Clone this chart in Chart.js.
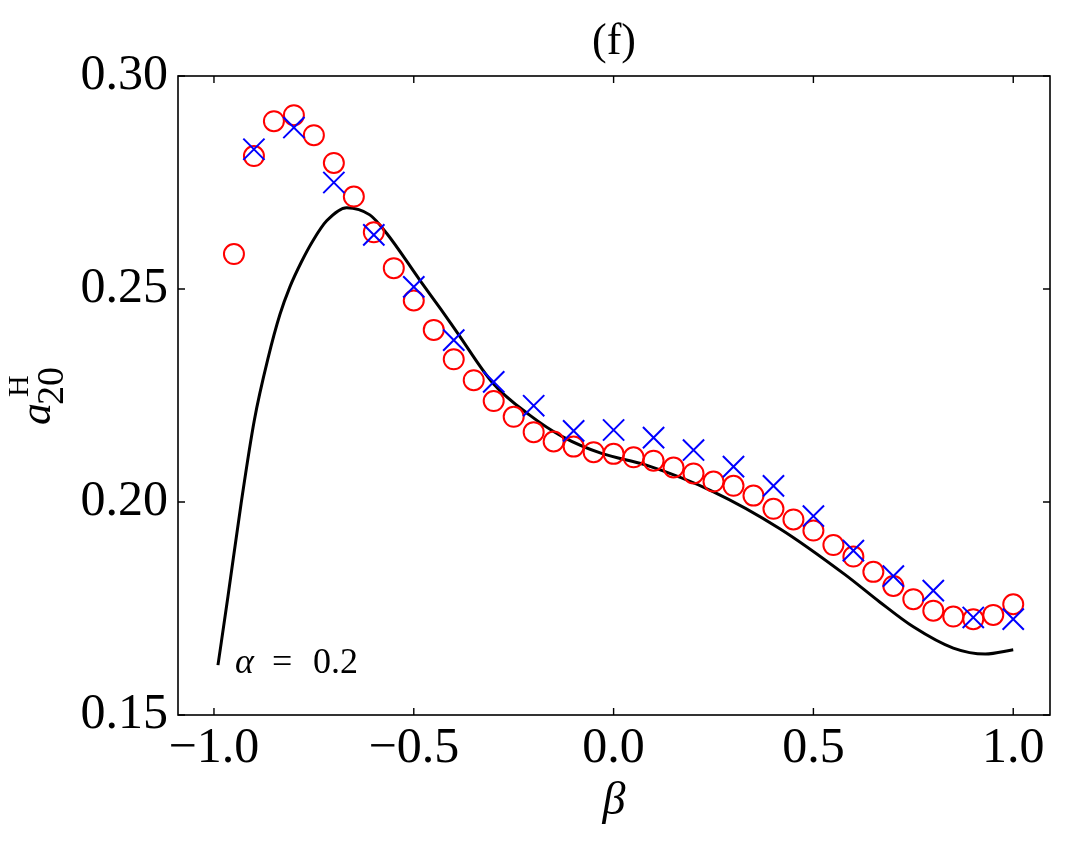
<!DOCTYPE html>
<html>
<head>
<meta charset="utf-8">
<script src="https://cdn.jsdelivr.net/npm/chart.js@4.4.1/dist/chart.umd.min.js"></script>
<style>
  html, body { margin: 0; background: #fff; }
  #wrap { width: 1068px; height: 843px; }
</style>
</head>
<body>
<div id="wrap"><canvas id="chart"></canvas></div>
<script>
// ---- data ----
const circleBeta = [-0.95, -0.9, -0.85, -0.8, -0.75, -0.7, -0.65, -0.6, -0.55, -0.5,
                    -0.45, -0.4, -0.35, -0.3, -0.25, -0.2, -0.15, -0.1, -0.05, 0.0,
                    0.05, 0.1, 0.15, 0.2, 0.25, 0.3, 0.35, 0.4, 0.45, 0.5,
                    0.55, 0.6, 0.65, 0.7, 0.75, 0.8, 0.85, 0.9, 0.95, 1.0];
const circleA = [0.2582, 0.2812, 0.2894, 0.2908, 0.2861, 0.2796, 0.2717, 0.2633, 0.2549, 0.2473,
                 0.2404, 0.2335, 0.2286, 0.2237, 0.2200, 0.2164, 0.2142, 0.2130, 0.2117, 0.2113,
                 0.2105, 0.2097, 0.2081, 0.2067, 0.2048, 0.2038, 0.2015, 0.1984, 0.1959, 0.1933,
                 0.1899, 0.1872, 0.1836, 0.1803, 0.1772, 0.1745, 0.1731, 0.1725, 0.1735, 0.1760];

const crossBeta = [-0.9, -0.8, -0.7, -0.6, -0.5, -0.4, -0.3, -0.2, -0.1, 0.0,
                   0.1, 0.2, 0.3, 0.4, 0.5, 0.6, 0.7, 0.8, 0.9, 1.0];
const crossA = [0.2828, 0.2879, 0.2750, 0.2627, 0.2505, 0.2380, 0.2282, 0.2226, 0.2167, 0.2169,
                0.2151, 0.2122, 0.2083, 0.2038, 0.1967, 0.1886, 0.1826, 0.1792, 0.1729, 0.1725];

const curveBeta = [-0.99, -0.965, -0.932, -0.899, -0.864, -0.835, -0.81, -0.781, -0.752, -0.718,
                   -0.668, -0.61, -0.568, -0.485, -0.432, -0.393, -0.302, -0.21, -0.127,
                   -0.03, 0.08, 0.25, 0.415, 0.58, 0.665, 0.75, 0.85, 0.93, 1.0];
const curveA = [0.1617, 0.1778, 0.1997, 0.2192, 0.2340, 0.2440, 0.2505, 0.2564, 0.2614, 0.2660,
                0.2691, 0.2674, 0.2631, 0.2521, 0.2452, 0.2400, 0.2279, 0.2204, 0.2153,
                0.2114, 0.2087, 0.2024, 0.1938, 0.1829, 0.1766, 0.1707, 0.1657, 0.1643, 0.1653];

const xTicks = [-1.0, -0.5, 0.0, 0.5, 1.0];
const yTicks = [0.15, 0.20, 0.25, 0.30];

const SERIF = "'Liberation Serif', 'DejaVu Serif', serif";
const pts = (xs, ys) => xs.map((x, i) => ({ x, y: ys[i] }));

// frame with inward ticks, title, y label and the alpha note
const framePlugin = {
  id: 'frame',
  afterDraw(chart) {
    const { ctx, chartArea: a, scales: { x, y } } = chart;
    ctx.save();
    ctx.strokeStyle = '#000';
    ctx.lineWidth = 1.6;
    ctx.strokeRect(a.left, a.top, a.right - a.left, a.bottom - a.top);
    ctx.lineWidth = 1.4;
    ctx.beginPath();
    xTicks.forEach(v => {
      const px = x.getPixelForValue(v);
      ctx.moveTo(px, a.bottom); ctx.lineTo(px, a.bottom - 7);
      ctx.moveTo(px, a.top); ctx.lineTo(px, a.top + 7);
    });
    yTicks.forEach(v => {
      const py = y.getPixelForValue(v);
      ctx.moveTo(a.left, py); ctx.lineTo(a.left + 7, py);
      ctx.moveTo(a.right, py); ctx.lineTo(a.right - 7, py);
    });
    ctx.stroke();

    ctx.fillStyle = '#000';
    // title
    ctx.font = `44px ${SERIF}`;
    ctx.textAlign = 'center';
    ctx.textBaseline = 'middle';
    ctx.fillText('(f)', (a.left + a.right) / 2, 42);

    // alpha = 0.2
    ctx.textAlign = 'left';
    ctx.textBaseline = 'alphabetic';
    ctx.font = `italic 36px ${SERIF}`;
    ctx.fillText('α', 235, 673);
    ctx.font = `36px ${SERIF}`;
    ctx.fillText('=', 272, 673);
    ctx.fillText('0.2', 313, 673);

    // y label a_20^H, rotated
    ctx.translate(50, 425);
    ctx.rotate(-Math.PI / 2);
    ctx.font = `italic 44px ${SERIF}`;
    ctx.fillText('a', 0, 0);
    ctx.font = `38px ${SERIF}`;
    ctx.fillText('20', 20, 13);
    ctx.font = `30px ${SERIF}`;
    ctx.fillText('H', 28, -22);
    ctx.restore();
  }
};

new Chart(document.getElementById('chart'), {
  type: 'scatter',
  data: {
    datasets: [
      {
        label: 'crosses',
        data: pts(crossBeta, crossA),
        pointStyle: 'crossRot', pointRadius: 15, borderWidth: 2,
        borderColor: '#0000ff', backgroundColor: '#0000ff',
        order: 1,
      },
      {
        label: 'circles',
        data: pts(circleBeta, circleA),
        pointStyle: 'circle', pointRadius: 10, borderWidth: 2,
        borderColor: '#ff0000', backgroundColor: 'rgba(0,0,0,0)',
        order: 2,
      },
      {
        type: 'line',
        label: 'theory',
        data: pts(curveBeta, curveA),
        borderColor: '#000', borderWidth: 3, pointRadius: 0,
        cubicInterpolationMode: 'monotone', fill: false,
        order: 3,
      },
    ]
  },
  options: {
    responsive: true, maintainAspectRatio: false, animation: false,
    layout: { padding: { top: 76, right: 18, left: 0, bottom: 0 } },
    plugins: { legend: { display: false }, tooltip: { enabled: false }, title: { display: false } },
    scales: {
      x: {
        type: 'linear', min: -1.09, max: 1.092,
        afterBuildTicks: s => { s.ticks = xTicks.map(v => ({ value: v })); },
        afterFit: s => { s.height = 128; },
        grid: { display: false, drawTicks: false },
        border: { display: false },
        ticks: {
          color: '#000', padding: 4, maxRotation: 0,
          font: { family: SERIF, size: 50 },
          callback: v => v.toFixed(1).replace('-', '\u2212'),
        },
        title: {
          display: true, text: 'β', color: '#000',
          font: { family: SERIF, size: 46, style: 'italic' },
          padding: { top: 0, bottom: 13 },
        },
      },
      y: {
        type: 'linear', min: 0.15, max: 0.30,
        afterBuildTicks: s => { s.ticks = yTicks.map(v => ({ value: v })); },
        afterFit: s => { s.width = 178; },
        grid: { display: false, drawTicks: false },
        border: { display: false },
        ticks: {
          color: '#000', padding: 10,
          font: { family: SERIF, size: 50 },
          callback: v => v.toFixed(2),
        },
      },
    },
  },
  plugins: [framePlugin],
});
</script>
</body>
</html>
